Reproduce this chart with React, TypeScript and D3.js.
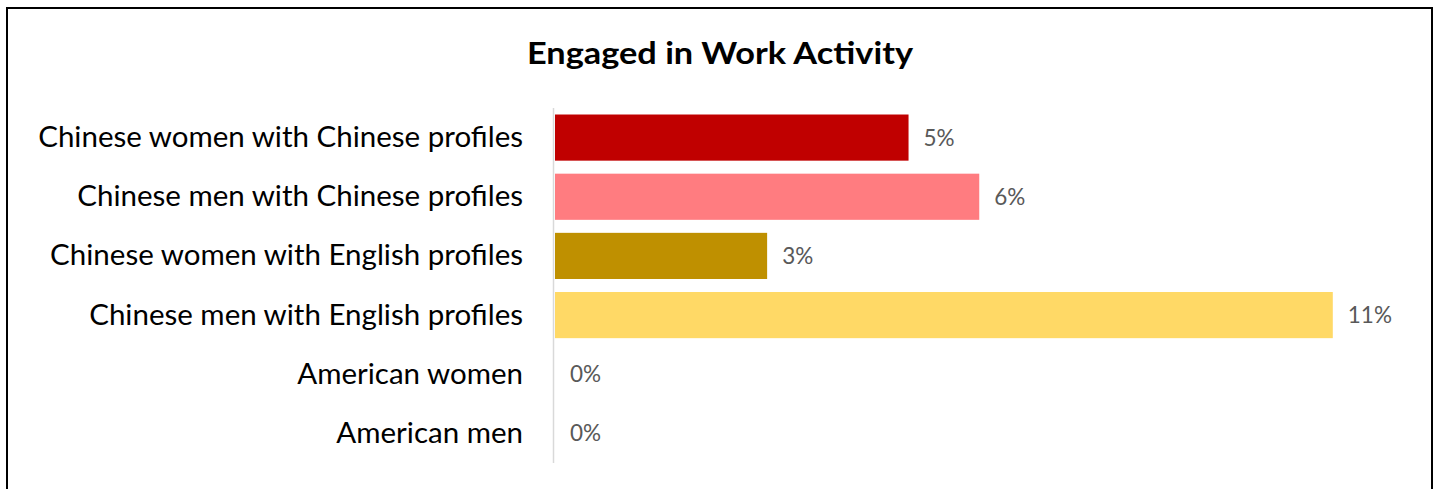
import React from "react";
import * as d3 from "d3";

const categories = [
  "Chinese women with Chinese profiles",
  "Chinese men with Chinese profiles",
  "Chinese women with English profiles",
  "Chinese men with English profiles",
  "American women",
  "American men",
];
const values = [5, 6, 3, 11, 0, 0];
const colors = ["#C00000", "#FF7C80", "#BF9000", "#FFD966", "#4472C4", "#ED7D31"];
const labels = ["5%", "6%", "3%", "11%", "0%", "0%"];
const title = "Engaged in Work Activity";

const W = 1438;
const H = 489;

export default function App() {
  const x = d3.scaleLinear().domain([0, 12]).range([555, 1403.5]);
  const y = d3
    .scaleBand<string>()
    .domain(categories)
    .range([108, 463])
    .paddingInner(0.22)
    .paddingOuter(0.11);
  const font = "Lato, Carlito, 'Open Sans', sans-serif";
  return (
    <svg
      width={W}
      height={H}
      style={{ position: "absolute", left: 0, top: 0, background: "#fff" }}
    >
      <rect x={0} y={0} width={W} height={H} fill="#fff" />
      <rect x={7} y={8} width={1425} height={520} fill="#fff" stroke="#000" strokeWidth={2} />
      <text
        x={720}
        y={64}
        textAnchor="middle"
        fontFamily={font}
        fontWeight="bold"
        fontSize={31}
        textLength={386}
        lengthAdjust="spacingAndGlyphs"
        fill="#000"
      >
        {title}
      </text>
      {categories.map((c, i) => {
        const yc = (y(c) as number) + y.bandwidth() / 2;
        return (
          <g key={c}>
            {values[i] > 0 && (
              <rect
                x={x(0)}
                y={y(c)}
                width={x(values[i]) - x(0)}
                height={y.bandwidth()}
                fill={colors[i]}
              />
            )}
            <text
              x={523}
              y={yc + 9.5}
              textAnchor="end"
              fontFamily={font}
              fontSize={29.5}
              fill="#000"
            >
              {c}
            </text>
            <text
              x={x(values[i]) + 15}
              y={yc + 8}
              fontFamily={font}
              fontSize={22.5}
              fill="#595959"
            >
              {labels[i]}
            </text>
          </g>
        );
      })}
      <line x1={553.5} x2={553.5} y1={108} y2={463} stroke="#d9d9d9" strokeWidth={1.5} />
    </svg>
  );
}
